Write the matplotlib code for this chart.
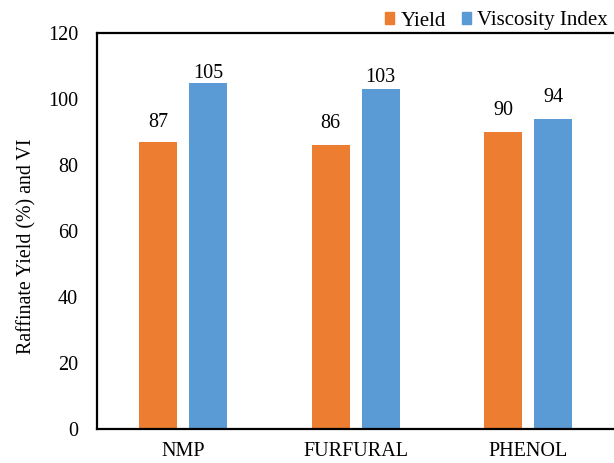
import matplotlib
matplotlib.use("Agg")
import matplotlib.pyplot as plt
import numpy as np
from matplotlib.patches import Patch

categories = ["NMP", "FURFURAL", "PHENOL"]
yield_vals = [87, 86, 90]
vi_vals = [105, 103, 94]

# label gaps above bars (pixels), style only
yield_gap_px = [15, 17, 17]
vi_gap_px = [5, 7, 17]

plt.rcParams['font.family'] = ['Liberation Serif', 'DejaVu Serif']

fig = plt.figure(figsize=(6.14, 4.63), dpi=100)
ax = fig.add_axes([97/614, 1-429/463, 517.5/614, (429-33)/463])

x = np.arange(len(categories))
w = 0.22
off = 0.145
orange = "#ED7D31"
blue = "#5B9BD5"
b1 = ax.bar(x - off, yield_vals, w, color=orange)
b2 = ax.bar(x + off, vi_vals, w, color=blue)
px2pt = 72 / 100
for bars, gaps in ((b1, yield_gap_px), (b2, vi_gap_px)):
    for r, g in zip(bars, gaps):
        ax.annotate(f"{r.get_height():.0f}", (r.get_x() + r.get_width()/2, r.get_height()),
                    xytext=(0, g * px2pt), textcoords="offset points",
                    ha="center", va="baseline", fontsize=14.5)

ax.set_xlim(-0.5, 2.5)
ax.set_ylim(0, 120)
ax.set_yticks(range(0, 121, 20))
ax.set_xticks(x)
ax.set_xticklabels(categories)
ax.tick_params(axis="both", length=0, labelsize=14.5)
ax.tick_params(axis="x", pad=9)
ax.tick_params(axis="y", pad=13.5)
for s in ("left", "bottom", "top"):
    ax.spines[s].set_linewidth(1.6)
ax.spines["right"].set_visible(False)
ax.set_ylabel("Raffinate Yield (%) and VI", fontsize=14.3)
ax.yaxis.set_label_coords((36 - 97) / 517.5, (429 - 246) / 396)

handles = [Patch(color=orange, label="Yield"), Patch(color=blue, label="Viscosity Index")]
fig.legend(handles=handles, loc="center right", bbox_to_anchor=(608/614, 1-21/463), ncol=2,
           frameon=False, fontsize=15, handlelength=0.45, handleheight=0.45,
           handletextpad=0.3, columnspacing=0.75, borderpad=0.0, borderaxespad=0)

fig.savefig("out.png", dpi=100)
